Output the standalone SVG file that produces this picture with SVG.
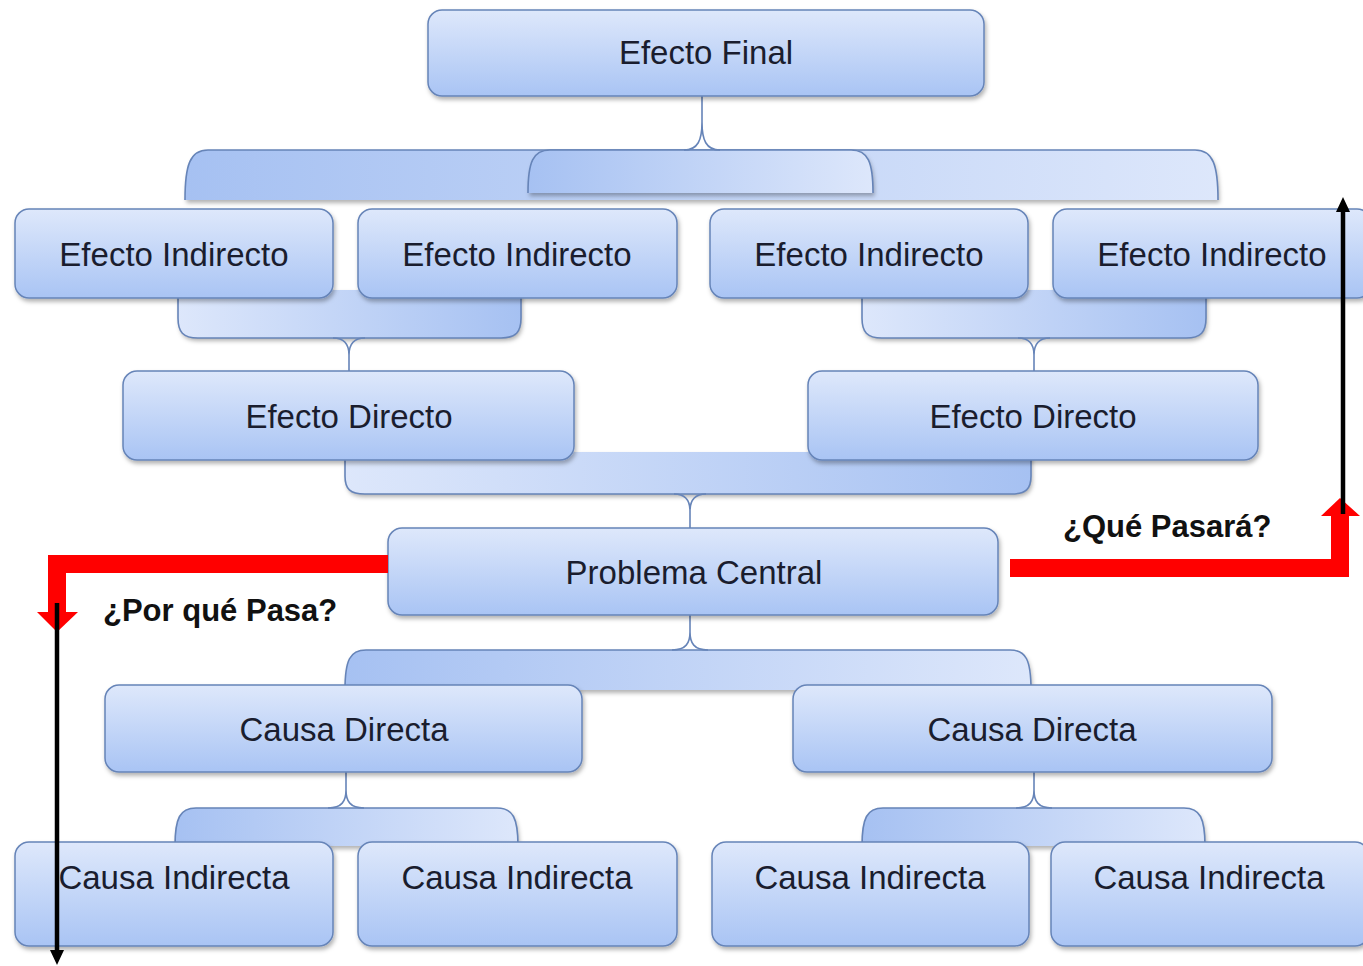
<svg xmlns="http://www.w3.org/2000/svg" width="1363" height="966" viewBox="0 0 1363 966">
  <defs>
    <linearGradient id="nodeFill" x1="0" y1="0" x2="0" y2="1">
      <stop offset="0" stop-color="#dee8fb"/>
      <stop offset="1" stop-color="#a9c4f4"/>
    </linearGradient>
    <linearGradient id="barDarkLeft" x1="0" y1="0" x2="1" y2="0">
      <stop offset="0" stop-color="#a6c1f2"/>
      <stop offset="1" stop-color="#dde7fb"/>
    </linearGradient>
    <linearGradient id="barLightLeft" x1="0" y1="0" x2="1" y2="0">
      <stop offset="0" stop-color="#dde7fb"/>
      <stop offset="1" stop-color="#a6c1f2"/>
    </linearGradient>
    <filter id="shadow" x="-5%" y="-10%" width="110%" height="130%">
      <feDropShadow dx="1.5" dy="3" stdDeviation="2" flood-color="#000" flood-opacity="0.3"/>
    </filter>
    <style>
      .node { fill: url(#nodeFill); stroke: #6684b8; stroke-width: 1.5; filter: url(#shadow); }
      .label { font-family: "Liberation Sans", Arial, sans-serif; font-size: 33px; fill: #1a1d2e; text-anchor: middle; }
      .bar { stroke: none; filter: url(#shadow); }
      .edge { fill: none; stroke: #6684b8; stroke-width: 1.6; }
      .flow { fill: none; stroke: #ff0000; stroke-width: 18; stroke-linejoin: miter; }
      .flowHead { fill: #ff0000; }
      .axis { stroke: #000; stroke-width: 4.5; }
      .axisHead { fill: #000; }
      .question { font-family: "Liberation Sans", Arial, sans-serif; font-size: 31px; font-weight: bold; fill: #111; }
    </style>
  </defs>
  <rect width="1363" height="966" fill="#ffffff"/>

  <!-- bracket connectors -->
  <g id="connectors">
    <!-- Efecto Final to the four indirect effects -->
    <path class="bar" fill="url(#barDarkLeft)" d="M185,200 C185,165 190,150 208,150 L1195,150 C1213,150 1218,165 1218,200 Z"/>
    <path class="edge" d="M185,200 C185,165 190,150 208,150 L1195,150 C1213,150 1218,165 1218,200"/>
    <path class="bar" fill="url(#barDarkLeft)" d="M528,193 C528,162 533,150 550,150 L851,150 C868,150 873,162 873,193 Z"/>
    <path class="edge" d="M528,193 C528,162 533,150 550,150 L851,150 C868,150 873,162 873,193"/>
    <path class="edge" d="M684,150 C698,150 702,140 702,122 L702,96 M720,150 C706,150 702,140 702,122"/>

    <!-- left indirect effects to left direct effect -->
    <path class="bar" fill="url(#barLightLeft)" d="M178,290 L178,318 C178,332 183,338 198,338 L501,338 C516,338 521,332 521,318 L521,290 Z"/>
    <path class="edge" d="M178,298 L178,318 C178,332 183,338 198,338 L501,338 C516,338 521,332 521,318 L521,298"/>
    <path class="edge" d="M333,338 C345,338 349,345 349,355 L349,371 M365,338 C353,338 349,345 349,355"/>

    <!-- right indirect effects to right direct effect -->
    <path class="bar" fill="url(#barLightLeft)" d="M862,290 L862,318 C862,332 867,338 882,338 L1186,338 C1201,338 1206,332 1206,318 L1206,290 Z"/>
    <path class="edge" d="M862,298 L862,318 C862,332 867,338 882,338 L1186,338 C1201,338 1206,332 1206,318 L1206,298"/>
    <path class="edge" d="M1018,338 C1030,338 1034,345 1034,355 L1034,371 M1050,338 C1038,338 1034,345 1034,355"/>

    <!-- direct effects to central problem -->
    <path class="bar" fill="url(#barLightLeft)" d="M345,452 L345,476 C345,489 350,494 365,494 L1011,494 C1026,494 1031,489 1031,476 L1031,452 Z"/>
    <path class="edge" d="M345,460 L345,476 C345,489 350,494 365,494 L1011,494 C1026,494 1031,489 1031,476 L1031,460"/>
    <path class="edge" d="M674,494 C686,494 690,501 690,511 L690,528 M706,494 C694,494 690,501 690,511"/>

    <!-- central problem to direct causes -->
    <path class="bar" fill="url(#barDarkLeft)" d="M345,690 C345,660 350,650 366,650 L1010,650 C1026,650 1031,660 1031,690 Z"/>
    <path class="edge" d="M345,690 C345,660 350,650 366,650 L1010,650 C1026,650 1031,660 1031,690"/>
    <path class="edge" d="M672,650 C686,650 690,643 690,632 L690,615 M708,650 C694,650 690,643 690,632"/>

    <!-- left direct cause to its indirect causes -->
    <path class="bar" fill="url(#barDarkLeft)" d="M175,846 C175,818 180,808 196,808 L497,808 C513,808 518,818 518,846 Z"/>
    <path class="edge" d="M175,846 C175,818 180,808 196,808 L497,808 C513,808 518,818 518,846"/>
    <path class="edge" d="M328,808 C342,808 346,801 346,790 L346,772 M364,808 C350,808 346,801 346,790"/>

    <!-- right direct cause to its indirect causes -->
    <path class="bar" fill="url(#barDarkLeft)" d="M862,846 C862,818 867,808 883,808 L1184,808 C1200,808 1205,818 1205,846 Z"/>
    <path class="edge" d="M862,846 C862,818 867,808 883,808 L1184,808 C1200,808 1205,818 1205,846"/>
    <path class="edge" d="M1016,808 C1030,808 1034,801 1034,790 L1034,772 M1052,808 C1038,808 1034,801 1034,790"/>
  </g>

  <!-- effects -->
  <g id="efecto-final">
    <rect class="node" x="428" y="10" width="556" height="86" rx="14"/>
    <text class="label" x="706" y="64">Efecto Final</text>
  </g>
  <g id="efecto-indirecto-1">
    <rect class="node" x="15" y="209" width="318" height="89" rx="14"/>
    <text class="label" x="174" y="266">Efecto Indirecto</text>
  </g>
  <g id="efecto-indirecto-2">
    <rect class="node" x="358" y="209" width="319" height="89" rx="14"/>
    <text class="label" x="517" y="266">Efecto Indirecto</text>
  </g>
  <g id="efecto-indirecto-3">
    <rect class="node" x="710" y="209" width="318" height="89" rx="14"/>
    <text class="label" x="869" y="266">Efecto Indirecto</text>
  </g>
  <g id="efecto-indirecto-4">
    <rect class="node" x="1053" y="209" width="318" height="89" rx="14"/>
    <text class="label" x="1212" y="266">Efecto Indirecto</text>
  </g>
  <g id="efecto-directo-1">
    <rect class="node" x="123" y="371" width="451" height="89" rx="14"/>
    <text class="label" x="349" y="428">Efecto Directo</text>
  </g>
  <g id="efecto-directo-2">
    <rect class="node" x="808" y="371" width="450" height="89" rx="14"/>
    <text class="label" x="1033" y="428">Efecto Directo</text>
  </g>

  <!-- central problem -->
  <g id="problema-central">
    <rect class="node" x="388" y="528" width="610" height="87" rx="14"/>
    <text class="label" x="694" y="584">Problema Central</text>
  </g>

  <!-- causes -->
  <g id="causa-directa-1">
    <rect class="node" x="105" y="685" width="477" height="87" rx="14"/>
    <text class="label" x="344" y="741">Causa Directa</text>
  </g>
  <g id="causa-directa-2">
    <rect class="node" x="793" y="685" width="479" height="87" rx="14"/>
    <text class="label" x="1032" y="741">Causa Directa</text>
  </g>
  <g id="causa-indirecta-1">
    <rect class="node" x="15" y="842" width="318" height="104" rx="14"/>
    <text class="label" x="174" y="889">Causa Indirecta</text>
  </g>
  <g id="causa-indirecta-2">
    <rect class="node" x="358" y="842" width="319" height="104" rx="14"/>
    <text class="label" x="517" y="889">Causa Indirecta</text>
  </g>
  <g id="causa-indirecta-3">
    <rect class="node" x="712" y="842" width="317" height="104" rx="14"/>
    <text class="label" x="870" y="889">Causa Indirecta</text>
  </g>
  <g id="causa-indirecta-4">
    <rect class="node" x="1051" y="842" width="318" height="104" rx="14"/>
    <text class="label" x="1209" y="889">Causa Indirecta</text>
  </g>

  <!-- reading directions -->
  <g id="direction-arrows">
    <path class="flow" d="M388,564 L57,564 L57,614"/>
    <polygon class="flowHead" points="37,612 78,612 57,632"/>
    <line class="axis" x1="57" y1="603" x2="57" y2="952"/>
    <polygon class="axisHead" points="50,950 64,950 57,965"/>
    <text class="question" x="103" y="621">¿Por qué Pasa?</text>

    <path class="flow" d="M1010,568 L1340,568 L1340,514"/>
    <polygon class="flowHead" points="1321,516 1360,516 1340,498"/>
    <line class="axis" x1="1343" y1="514" x2="1343" y2="210"/>
    <polygon class="axisHead" points="1336,212 1350,212 1343,197"/>
    <text class="question" x="1063" y="537">¿Qué Pasará?</text>
  </g>
</svg>
